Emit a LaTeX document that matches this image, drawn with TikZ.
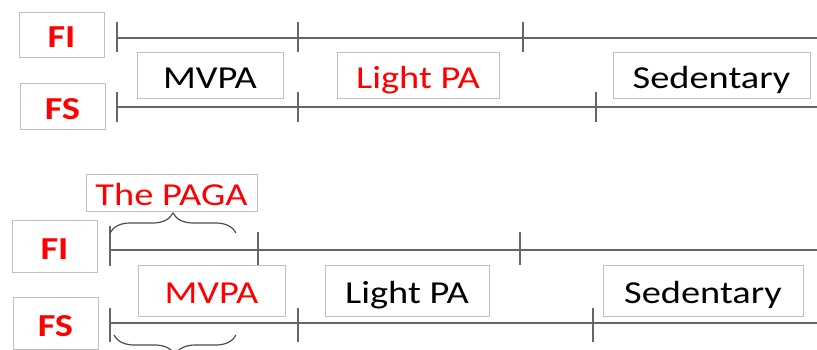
\documentclass[tikz,border=0pt]{standalone}
\usepackage{fontspec}
\setmainfont[FakeStretch=1.2]{Carlito}
\usetikzlibrary{decorations.pathreplacing}

\tikzset{
  box/.style={draw=gray!50,line width=1pt,inner sep=0pt,text height=26pt,text depth=0pt,font=\fontsize{32}{38}\selectfont},
  lab/.style={box,minimum width=85pt,text=red,font=\fontsize{32}{38}\selectfont\bfseries},
  tline/.style={draw=black!60,line width=1.5pt},
}

\begin{document}
\begin{tikzpicture}[x=1pt,y=-1pt]
  \useasboundingbox (0,0) rectangle (817,349);

  % upper panel
  \node (FI1) at (61.5,34.5) [lab,minimum height=45pt]{FI};
  \node (FS1) at (62.5,106) [lab,minimum height=46pt]{FS};

  \node (mvpa1) at (210,75) [box,minimum width=146pt,minimum height=46pt]{MVPA};
  \node (light1) at (418,75) [box,minimum width=162pt,minimum height=46pt,text=red]{Light PA};
  \node (sed1) at (711.5,75) [box,minimum width=197pt,minimum height=46pt]{Sedentary};

  \coordinate (fi1a) at (117,38);
  \coordinate (fi1b) at (817,38);
  \coordinate (fs1a) at (117,107);
  \coordinate (fs1b) at (817,107);

  \draw[tline] (fi1a) -- (fi1b);
  \draw[tline] (fs1a) -- (fs1b);
  \foreach \x in {117,298,523} \draw[tline] (\x,22) -- (\x,52);
  \foreach \x in {117,298,596} \draw[tline] (\x,92) -- (\x,122);

  % lower panel
  \node (paga) at (171.5,192.5) [box,minimum width=171pt,minimum height=37pt,text=red]{The PAGA};
  \node (FI2) at (54.5,246) [lab,minimum height=52pt]{FI};
  \node (FS2) at (55.5,323) [lab,minimum height=52pt]{FS};

  \node (mvpa2) at (211.5,290.5) [box,minimum width=147pt,minimum height=51pt,text=red]{MVPA};
  \node (light2) at (407,290.5) [box,minimum width=164pt,minimum height=51pt]{Light PA};
  \node (sed2) at (703,290.5) [box,minimum width=200pt,minimum height=51pt]{Sedentary};

  \coordinate (fi2a) at (110,250);
  \coordinate (fi2b) at (817,250);
  \coordinate (fs2a) at (110,323);
  \coordinate (fs2b) at (817,323);

  \draw[tline] (fi2a) -- (fi2b);
  \draw[tline] (fs2a) -- (fs2b);
  \draw[tline] (110,226) -- (110,266);
  \foreach \x in {258,520} \draw[tline] (\x,232) -- (\x,265);
  \draw[tline] (110,308) -- (110,342);
  \foreach \x in {298,593} \draw[tline] (\x,308) -- (\x,342);

  % braces
  \draw[black!70,line width=1.2pt,decorate,decoration={brace,amplitude=20pt}] (110,233) -- (236,233);
  \draw[black!70,line width=1.2pt,decorate,decoration={brace,amplitude=20pt}] (236,335) -- (114,335);

\end{tikzpicture}
\end{document}
